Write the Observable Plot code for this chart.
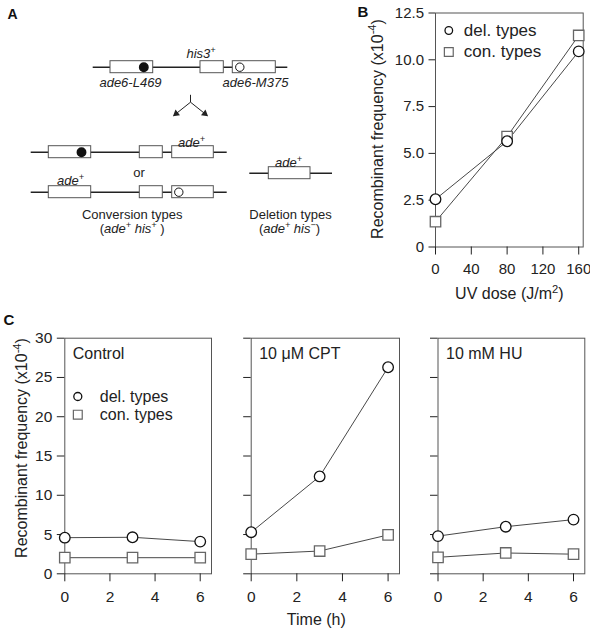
<!DOCTYPE html>
<html><head><meta charset="utf-8">
<script src="https://cdn.jsdelivr.net/npm/d3@7"></script>
<script src="https://cdn.jsdelivr.net/npm/@observablehq/plot@0.6"></script>
<style>
body{margin:0;background:#fff;}
#fig{position:relative;width:590px;height:629px;overflow:hidden;background:#fff;}
</style></head><body><div id="fig"></div>
<script>
// ---------------- data ----------------
// Panel B
const uvDose = [0, 80, 160];
const uvDel = [2.55, 5.65, 10.45];
const uvCon = [1.35, 5.9, 11.3];
const uvXTicks = [0, 40, 80, 120, 160];
const uvYTicks = [0, 2.5, 5, 7.5, 10, 12.5];

// Panel C
const timeH = [0, 3, 6];
const controlDel = [4.6, 4.65, 4.1];
const controlCon = [2.05, 2.05, 2.05];
const cptDel = [5.3, 12.4, 26.3];
const cptCon = [2.5, 2.9, 4.95];
const huDel = [4.8, 6.0, 6.9];
const huCon = [2.1, 2.65, 2.5];
const timeTicks = [0, 2, 4, 6];
const freqTicks = [0, 5, 10, 15, 20, 25, 30];
const panelTitles = ["Control", "10 μM CPT", "10 mM HU"];
const seriesNames = ["del. types", "con. types"];
const yLabel = "Recombinant frequency (x10^-4^)";

// Panel A schematic (diagram coordinates)
const chromosomes = [
  {x1: 92.7, x2: 287.3, y: 66.7},
  {x1: 30.7, x2: 226.7, y: 151.7},
  {x1: 30.7, x2: 226.7, y: 191.7},
  {x1: 249.3, x2: 332, y: 172.7}
];
const genes = [
  {x1: 110, x2: 152.7, y: 66.7}, {x1: 200, x2: 223.3, y: 66.7}, {x1: 232.3, x2: 275.3, y: 66.7},
  {x1: 48.3, x2: 90.7, y: 151.7}, {x1: 139.3, x2: 162.3, y: 151.7}, {x1: 171.7, x2: 213.3, y: 151.7},
  {x1: 48.3, x2: 90.7, y: 191.7}, {x1: 139.3, x2: 162.3, y: 191.7}, {x1: 171.7, x2: 213.3, y: 191.7},
  {x1: 268.3, x2: 310, y: 172.7}
];
const allelesFilled = [{x: 143.3, y: 66.7}, {x: 81, y: 151.7}];
const allelesOpen = [{x: 239.3, y: 66.7}, {x: 178.3, y: 191.7}];
const arrowStem = [{x1: 190, y1: 94.3, x2: 190, y2: 101.7}];
const arrowBranches = [{x1: 190, y1: 101.7, x2: 173.3, y2: 115}, {x1: 190, y1: 101.7, x2: 206.7, y2: 115}];
const schematicLabels = [
  {x: 130, y: 82, text: "*ade6-L469*"},
  {x: 200.5, y: 53, text: "*his3^+^*"},
  {x: 255, y: 82, text: "*ade6-M375*"},
  {x: 191, y: 142.5, text: "*ade^+^*"},
  {x: 138.5, y: 172.5, text: "or"},
  {x: 70, y: 180.8, text: "*ade^+^*"},
  {x: 288, y: 162.5, text: "*ade^+^*"},
  {x: 131.7, y: 214, text: "Conversion types"},
  {x: 131.7, y: 228.5, text: "(*ade^+^ his^+^* )"},
  {x: 290, y: 214, text: "Deletion types"},
  {x: 289, y: 228.5, text: "(*ade^+^ his^−^*)"}
];

// ---------------- helpers ----------------
const FONT = '"Liberation Sans", Arial, Helvetica, sans-serif';
const fig = document.getElementById("fig");

function richify(svg) {
  d3.select(svg).selectAll("text").each(function () {
    const t = this.textContent;
    if (!/[*^]/.test(t)) return;
    const sel = d3.select(this);
    sel.text(null);
    let italic = false, sup = false, buf = "", reset = false;
    const flush = () => {
      if (!buf) return;
      const ts = sel.append("tspan").text(buf);
      if (italic) ts.attr("font-style", "italic");
      if (sup) { ts.attr("font-size", "70%").attr("dy", "-0.55em"); reset = true; }
      else if (reset) { ts.attr("dy", "0.385em"); reset = false; }
      buf = "";
    };
    for (const ch of t) {
      if (ch === "*") { flush(); italic = !italic; }
      else if (ch === "^") { flush(); sup = !sup; }
      else buf += ch;
    }
    flush();
  });
}

function place(svg, left, top) {
  richify(svg);
  svg.style.position = "absolute";
  svg.style.left = left + "px";
  svg.style.top = top + "px";
  svg.style.overflow = "visible";
  svg.style.background = "transparent";
  svg.style.maxWidth = "none";
  fig.appendChild(svg);
}

const baseStyle = {fontFamily: FONT, color: "#222", background: "transparent", overflow: "visible"};

// arrow heads: filled triangles at branch ends, oriented along each branch
const headBack = 3;
const arrowHeads = arrowBranches.map(a => {
  const vx = a.x2 - a.x1, vy = a.y2 - a.y1, L = Math.hypot(vx, vy);
  return {
    x: a.x2 - vx / L * headBack,
    y: a.y2 - vy / L * headBack,
    angle: Math.atan2(vx, -vy) * 180 / Math.PI
  };
});

// ---------------- Panel A ----------------
const plotA = Plot.plot({
  width: 335, height: 250, margin: 0,
  x: {domain: [0, 335], range: [0, 335]},
  y: {domain: [0, 250], range: [0, 250]},
  axis: null,
  style: {...baseStyle, fontSize: "13px"},
  marks: [
    Plot.ruleY(chromosomes, {y: "y", x1: "x1", x2: "x2", stroke: "#222", strokeWidth: 1.5}),
    Plot.rect(genes, {x1: "x1", x2: "x2", y1: d => d.y - 6, y2: d => d.y + 6, fill: "white", stroke: "#555", strokeWidth: 1}),
    Plot.dot(allelesFilled, {x: "x", y: "y", r: 4.2, fill: "#111", stroke: "#111"}),
    Plot.dot(allelesOpen, {x: "x", y: "y", r: 4.2, fill: "white", stroke: "#111", strokeWidth: 1}),
    Plot.link(arrowStem, {x1: "x1", y1: "y1", x2: "x2", y2: "y2", stroke: "#222", strokeWidth: 1}),
    Plot.link(arrowBranches, {x1: "x1", y1: "y1", x2: "x2", y2: "y2", stroke: "#222", strokeWidth: 1}),
    Plot.dot(arrowHeads, {x: "x", y: "y", rotate: "angle", symbol: "triangle2", r: 3.4, fill: "#222"}),
    Plot.text(schematicLabels, {x: "x", y: "y", text: "text", fontSize: 13, fill: "#222"}),
    Plot.text(["A"], {text: d => d, x: 7, y: 14, textAnchor: "start", fontWeight: "bold", fontSize: 14, fill: "#111"})
  ]
});
place(plotA, 0, 0);

// ---------------- Panel B ----------------
const uvData = uvDose.flatMap((d, i) => [
  {dose: d, v: uvDel[i], s: seriesNames[0]},
  {dose: d, v: uvCon[i], s: seriesNames[1]}
]);
const plotB = Plot.plot({
  width: 260, height: 310,
  marginLeft: 105, marginRight: 7.3, marginTop: 12.5, marginBottom: 63.5,
  x: {domain: [0, 165]}, y: {domain: [0, 12.5]},
  style: {...baseStyle, fontSize: "15px"},
  marks: [
    Plot.frame({stroke: "#555", strokeWidth: 1}),
    Plot.axisX({ticks: uvXTicks, tickSize: 8, tickPadding: 8, label: null, fontSize: 15, tickFormat: d => String(d)}),
    Plot.axisY({ticks: uvYTicks, tickSize: 6.5, tickPadding: 5, label: null, fontSize: 15,
      tickFormat: d => d === 0 ? "0" : d.toFixed(1)}),
    Plot.line(uvData, {x: "dose", y: "v", z: "s", stroke: "#333", strokeWidth: 0.9}),
    Plot.dot(uvData.filter(d => d.s === seriesNames[1]), {x: "dose", y: "v", symbol: "square", r: 5.9, fill: "white", stroke: "#666", strokeWidth: 1.3}),
    Plot.dot(uvData.filter(d => d.s === seriesNames[0]), {x: "dose", y: "v", r: 5.3, fill: "white", stroke: "#111", strokeWidth: 1.3}),
    // legend
    Plot.dot([seriesNames[0]], {frameAnchor: "top-left", dx: 13.3, dy: 17.5, r: 3.8, fill: "white", stroke: "#111", strokeWidth: 1.3}),
    Plot.dot([seriesNames[1]], {frameAnchor: "top-left", dx: 13.3, dy: 39, symbol: "square", r: 5, fill: "white", stroke: "#666", strokeWidth: 1.2}),
    Plot.text([seriesNames[0]], {text: d => d, frameAnchor: "top-left", dx: 28.3, dy: 17.5, lineAnchor: "middle", fontSize: 17, fill: "#222"}),
    Plot.text([seriesNames[1]], {text: d => d, frameAnchor: "top-left", dx: 28.3, dy: 39, lineAnchor: "middle", fontSize: 17, fill: "#222"}),
    // axis labels
    Plot.text([yLabel], {text: d => d, frameAnchor: "left", rotate: -90, textAnchor: "middle", lineAnchor: "middle", dx: -58, dy: -1, fontSize: 16, fill: "#222"}),
    Plot.text(["UV dose (J/m^2^)"], {text: d => d, frameAnchor: "bottom", dy: 47, lineAnchor: "middle", fontSize: 16, fill: "#222"}),
    Plot.text(["B"], {text: d => d, frameAnchor: "top-left", dx: -78, dy: -1, textAnchor: "start", lineAnchor: "middle", fontWeight: "bold", fontSize: 15, fill: "#111"})
  ]
});
place(plotB, 330, 0);

// ---------------- Panel C ----------------
function panelC({del, con, title, left, width, mLeft, mRight, first, middle}) {
  const data = timeH.flatMap((t, i) => [
    {t, v: del[i], s: seriesNames[0]},
    {t, v: con[i], s: seriesNames[1]}
  ]);
  const marks = [
    Plot.frame({stroke: "#555", strokeWidth: 1}),
    Plot.axisX({ticks: timeTicks, tickSize: 8, tickPadding: 9, label: null, fontSize: 15.5, tickFormat: d => String(d)}),
    Plot.axisY({ticks: freqTicks, tickSize: 7.5, tickPadding: 5, label: null, fontSize: 15.5,
      tickFormat: first ? (d => String(d)) : (() => "")}),
    Plot.line(data, {x: "t", y: "v", z: "s", stroke: "#333", strokeWidth: 0.9}),
    Plot.dot(data.filter(d => d.s === seriesNames[1]), {x: "t", y: "v", symbol: "square", r: 5.9, fill: "white", stroke: "#666", strokeWidth: 1.3}),
    Plot.dot(data.filter(d => d.s === seriesNames[0]), {x: "t", y: "v", r: 5.3, fill: "white", stroke: "#111", strokeWidth: 1.3}),
    Plot.text([title], {text: d => d, frameAnchor: "top-left", dx: 8, dy: 15.6, lineAnchor: "middle", fontSize: 16, fill: "#222"})
  ];
  if (first) {
    marks.push(
      Plot.dot([seriesNames[0]], {frameAnchor: "top-left", dx: 13, dy: 58.3, r: 4, fill: "white", stroke: "#111", strokeWidth: 1.3}),
      Plot.dot([seriesNames[1]], {frameAnchor: "top-left", dx: 13, dy: 76.5, symbol: "square", r: 5, fill: "white", stroke: "#666", strokeWidth: 1.2}),
      Plot.text([seriesNames[0]], {text: d => d, frameAnchor: "top-left", dx: 35, dy: 58.3, lineAnchor: "middle", fontSize: 16, fill: "#222"}),
      Plot.text([seriesNames[1]], {text: d => d, frameAnchor: "top-left", dx: 35, dy: 76.5, lineAnchor: "middle", fontSize: 16, fill: "#222"}),
      Plot.text([yLabel], {text: d => d, frameAnchor: "left", rotate: -90, textAnchor: "middle", lineAnchor: "middle", dx: -43, dy: -8, fontSize: 16, fill: "#222"}),
      Plot.text(["C"], {text: d => d, frameAnchor: "top-left", dx: -61.3, dy: -17.7, textAnchor: "start", lineAnchor: "middle", fontWeight: "bold", fontSize: 15, fill: "#111"})
    );
  }
  if (middle) {
    marks.push(Plot.text(["Time (h)"], {text: d => d, frameAnchor: "bottom", dx: -9, dy: 46, lineAnchor: "middle", fontSize: 16, fill: "#222"}));
  }
  const p = Plot.plot({
    width, height: 319,
    marginLeft: mLeft, marginRight: mRight, marginTop: 27.7, marginBottom: 55.7,
    x: {domain: [0, 6.5]}, y: {domain: [0, 30]},
    style: {...baseStyle, fontSize: "15.5px"},
    marks
  });
  place(p, left, 310);
}

panelC({del: controlDel, con: controlCon, title: panelTitles[0], left: 0, width: 225, mLeft: 64.3, mRight: 14, first: true});
panelC({del: cptDel, con: cptCon, title: panelTitles[1], left: 225, width: 185, mLeft: 25.7, mRight: 11, middle: true});
panelC({del: huDel, con: huCon, title: panelTitles[2], left: 410, width: 180, mLeft: 27.5, mRight: 5.7});
</script>
</body></html>
